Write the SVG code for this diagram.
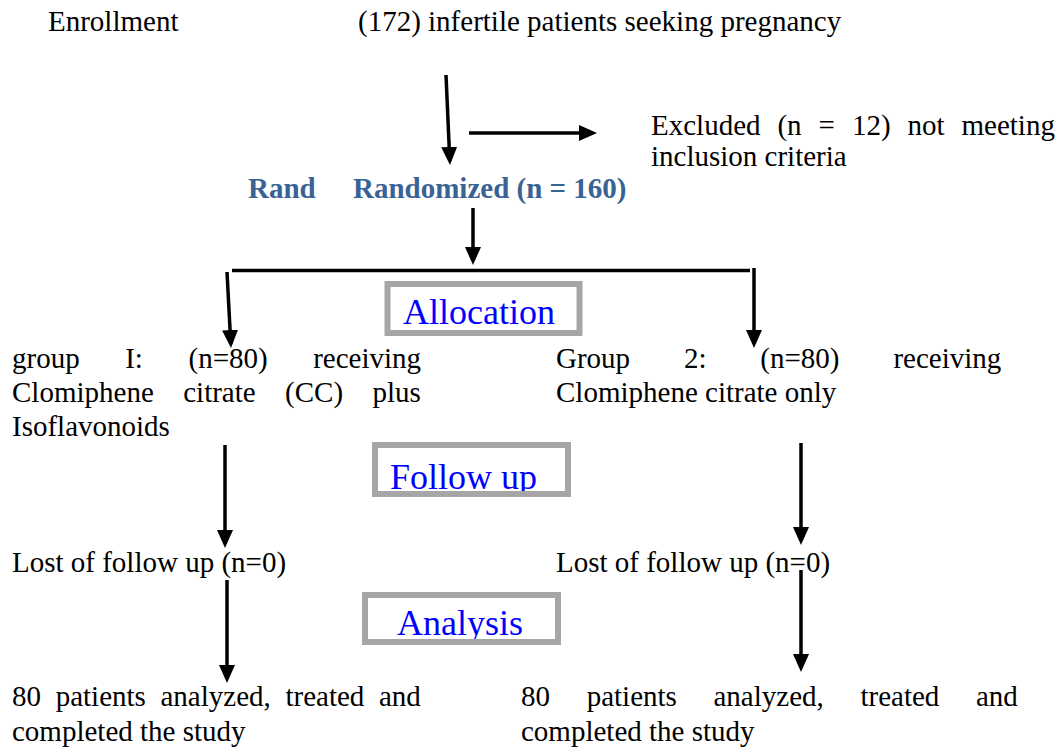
<svg xmlns="http://www.w3.org/2000/svg" width="1059" height="749" viewBox="0 0 1059 749">
<style>
  .t { font-family: "Liberation Serif", "Times New Roman", serif; font-size: 29px; fill: #000; }
  .r { font-family: "Liberation Serif", "Times New Roman", serif; font-size: 29px; font-weight: bold; fill: #3A6395; }
  .h { font-family: "Liberation Serif", "Times New Roman", serif; font-size: 36px; fill: #0000FF; }
  .box { fill: none; stroke: #A6A6A6; stroke-width: 6; }
  .bg { fill: #FFFFFF; stroke: none; }
  .c { stroke: #000; stroke-width: 3.5; fill: none; }
  .ca { stroke: #000; stroke-width: 3.5; fill: none; marker-end: url(#ah); }
</style>
<defs>
  <marker id="ah" markerUnits="userSpaceOnUse" viewBox="0 0 18 16" refX="14" refY="8" markerWidth="18" markerHeight="16" orient="auto">
    <path d="M0,0 L18,8 L0,16 Z" fill="#000"/>
  </marker>
</defs>
<rect width="1059" height="749" fill="#FFFFFF"/>

<g id="enrollment-label"><text class="t" x="48" y="31">Enrollment</text></g>
<g id="enrolled"><text class="t" x="358" y="31">(172) infertile patients seeking pregnancy</text></g>
<g id="excluded">
  <text class="t" x="651" y="135" word-spacing="9.7">Excluded (n = 12) not meeting</text>
  <text class="t" x="651" y="166">inclusion criteria</text>
</g>
<g id="randomized">
  <text class="r" x="248" y="198">Rand</text>
  <text class="r" x="353" y="198">Randomized (n = 160)</text>
</g>
<g id="allocation">
  <rect class="bg" x="387.5" y="284" width="192" height="49"/>
  <text class="h" x="403" y="324">Allocation</text>
  <rect class="box" x="387.5" y="284" width="192" height="49"/>
</g>
<g id="group1">
  <text class="t" x="12" y="368" word-spacing="38.3">group I: (n=80) receiving</text>
  <text class="t" x="12" y="402" word-spacing="22.2">Clomiphene citrate (CC) plus</text>
  <text class="t" x="12" y="436">Isoflavonoids</text>
</g>
<g id="group2">
  <text class="t" x="556" y="368" word-spacing="46.6">Group 2: (n=80) receiving</text>
  <text class="t" x="556" y="402">Clomiphene citrate only</text>
</g>
<g id="followup">
  <rect class="bg" x="375" y="445" width="193" height="49"/>
  <text class="h" x="390" y="489">Follow up</text>
  <rect class="box" x="375" y="445" width="193" height="49"/>
</g>
<g id="lost1"><text class="t" x="12" y="572">Lost of follow up (n=0)</text></g>
<g id="lost2"><text class="t" x="556" y="572">Lost of follow up (n=0)</text></g>
<g id="analysis">
  <rect class="bg" x="365" y="595" width="193" height="47"/>
  <text class="h" x="397" y="635">Analysis</text>
  <rect class="box" x="365" y="595" width="193" height="47"/>
</g>
<g id="analyzed1">
  <text class="t" x="12" y="706" word-spacing="7.4">80 patients analyzed, treated and</text>
  <text class="t" x="12" y="741">completed the study</text>
</g>
<g id="analyzed2">
  <text class="t" x="521" y="706" word-spacing="29.4">80 patients analyzed, treated and</text>
  <text class="t" x="521" y="741">completed the study</text>
</g>

<g id="connectors">
  <line class="ca" x1="446" y1="75" x2="449.8" y2="161"/>
  <line class="ca" x1="469" y1="133" x2="593" y2="133"/>
  <line class="ca" x1="473" y1="208" x2="473" y2="261"/>
  <line class="c" x1="232" y1="270.5" x2="750" y2="270.5"/>
  <line class="ca" x1="227" y1="272" x2="230.8" y2="344"/>
  <line class="ca" x1="754" y1="268" x2="754" y2="344"/>
  <line class="ca" x1="225" y1="445" x2="225" y2="544"/>
  <line class="ca" x1="801" y1="443" x2="801" y2="541"/>
  <line class="ca" x1="227" y1="580" x2="227" y2="679"/>
  <line class="ca" x1="801" y1="570" x2="801" y2="668"/>
</g>
</svg>
